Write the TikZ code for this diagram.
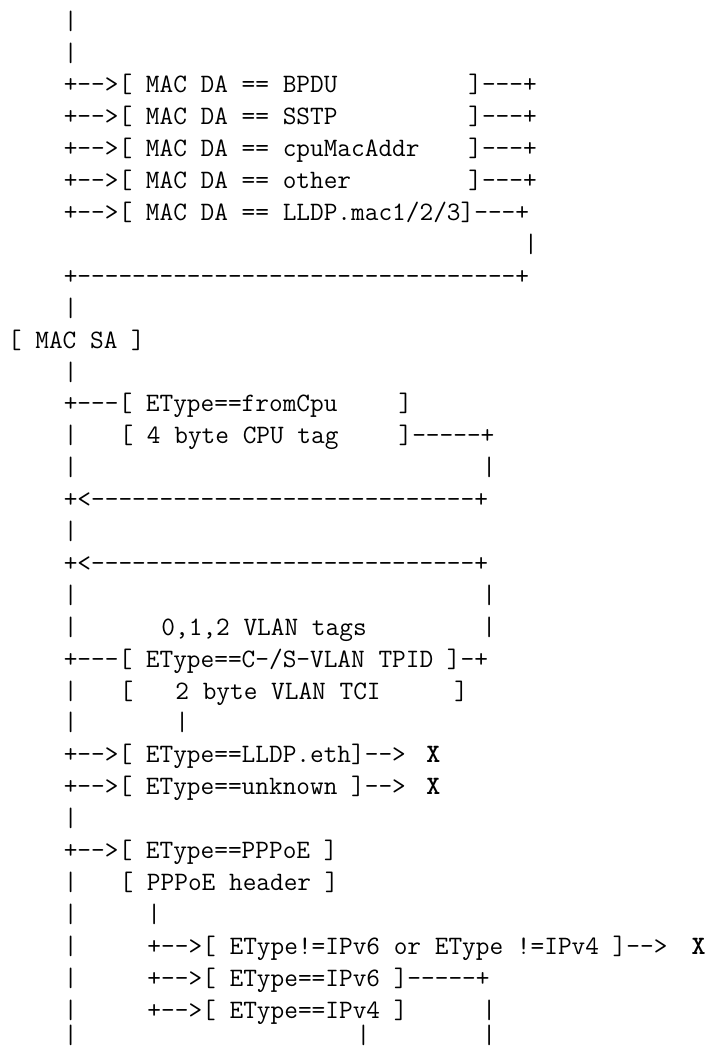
\documentclass[tikz,border=0pt]{standalone}
\newcommand\asciifont{\ttfamily\fontsize{13.286pt}{15.95pt}\selectfont}
\tikzset{
  seg/.style={anchor=base west, inner sep=0pt, outer sep=0pt, font=\asciifont},
  drop/.style={seg, font=\asciifont\bfseries},
}
% #1 name, #2 column, #3 row, #4 text
\newcommand\seg[4]{\node[seg] (#1) at (#2,{0.085-#3}) {#4};}
\newcommand\dropx[3]{\node[drop] (#1) at (#2,{0.085-#3}) {X};}
\begin{document}
\begin{tikzpicture}[x=6.975pt,y=15.95pt]
\useasboundingbox (-0.5735,0) rectangle (50.3226,-32.853);
\seg{r1}{4}{1}{|}
\seg{r2}{4}{2}{|}
\seg{r3a}{4}{3}{+-->[ MAC DA == BPDU}
\seg{r3b}{33}{3}{]---+}
\seg{r4a}{4}{4}{+-->[ MAC DA == SSTP}
\seg{r4b}{33}{4}{]---+}
\seg{r5a}{4}{5}{+-->[ MAC DA == cpuMacAddr}
\seg{r5b}{33}{5}{]---+}
\seg{r6a}{4}{6}{+-->[ MAC DA == other}
\seg{r6b}{33}{6}{]---+}
\seg{r7}{4}{7}{+-->[ MAC DA == LLDP.mac1/2/3]---+}
\seg{r8}{37}{8}{|}
\seg{r9}{4}{9}{+--------------------------------+}
\seg{r10}{4}{10}{|}
\seg{r11}{0}{11}{[ MAC SA ]}
\seg{r12}{4}{12}{|}
\seg{r13a}{4}{13}{+---[ EType==fromCpu}
\seg{r13b}{28}{13}{]}
\seg{r14a}{4}{14}{|}
\seg{r14b}{8}{14}{[ 4 byte CPU tag}
\seg{r14c}{28}{14}{]-----+}
\seg{r15a}{4}{15}{|}
\seg{r15b}{34}{15}{|}
\seg{r16}{4}{16}{+<----------------------------+}
\seg{r17}{4}{17}{|}
\seg{r18}{4}{18}{+<----------------------------+}
\seg{r19a}{4}{19}{|}
\seg{r19b}{34}{19}{|}
\seg{r20a}{4}{20}{|}
\seg{r20b}{11}{20}{0,1,2 VLAN tags}
\seg{r20c}{34}{20}{|}
\seg{r21}{4}{21}{+---[ EType==C-/S-VLAN TPID ]-+}
\seg{r22a}{4}{22}{|}
\seg{r22b}{8}{22}{[}
\seg{r22c}{12}{22}{2 byte VLAN TCI}
\seg{r22d}{32}{22}{]}
\seg{r23a}{4}{23}{|}
\seg{r23b}{12}{23}{|}
\seg{r24a}{4}{24}{+-->[ EType==LLDP.eth]-->}
\dropx{r24b}{30}{24}
\seg{r25a}{4}{25}{+-->[ EType==unknown ]-->}
\dropx{r25b}{30}{25}
\seg{r26}{4}{26}{|}
\seg{r27}{4}{27}{+-->[ EType==PPPoE ]}
\seg{r28a}{4}{28}{|}
\seg{r28b}{8}{28}{[ PPPoE header ]}
\seg{r29a}{4}{29}{|}
\seg{r29b}{10}{29}{|}
\seg{r30a}{4}{30}{|}
\seg{r30b}{10}{30}{+-->[ EType!=IPv6 or EType !=IPv4 ]-->}
\dropx{r30c}{49}{30}
\seg{r31a}{4}{31}{|}
\seg{r31b}{10}{31}{+-->[ EType==IPv6 ]-----+}
\seg{r32a}{4}{32}{|}
\seg{r32b}{10}{32}{+-->[ EType==IPv4 ]}
\seg{r32c}{34}{32}{|}
\seg{r33a}{4}{32.8}{|}
\seg{r33b}{25}{32.8}{|}
\seg{r33c}{34}{32.8}{|}
\end{tikzpicture}
\end{document}
